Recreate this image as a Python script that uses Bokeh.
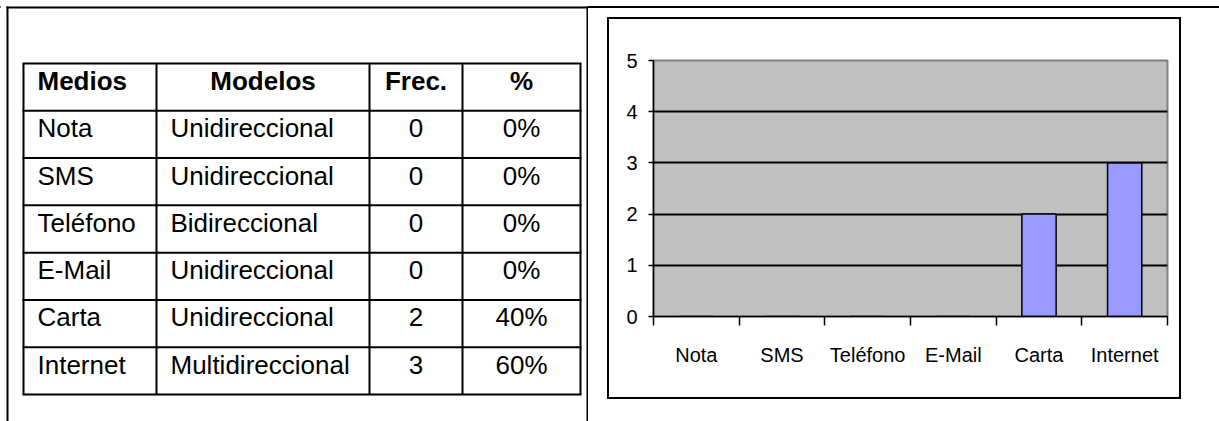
from bokeh.plotting import figure
from bokeh.models import (Range1d, FactorRange, LinearAxis, FixedTicker,
                          ColumnDataSource)
from bokeh.layouts import row
from bokeh.embed import file_html
from bokeh.resources import INLINE
from bokeh.core.properties import value

# ---------------- data ----------------
medios = ["Nota", "SMS", "Teléfono", "E-Mail", "Carta", "Internet"]
modelos = ["Unidireccional", "Unidireccional", "Bidireccional",
           "Unidireccional", "Unidireccional", "Multidireccional"]
frecuencia = [0, 0, 0, 0, 2, 3]
porcentaje = ["0%", "0%", "0%", "0%", "40%", "60%"]
encabezados = ["Medios", "Modelos", "Frec.", "%"]
y_ticks = [0, 1, 2, 3, 4, 5]

# ---------------- layout constants (page pixels) ----------------
PAGE_W, PAGE_H = 1219, 421
W1 = 588
FONT = "Liberation Sans"

col_edges = [23, 156, 369, 462, 580]
t_top, t_bot = 63, 394
n_rows = len(medios) + 1
row_h = (t_bot - t_top) / n_rows
row_edges = [t_top + i * row_h for i in range(n_rows + 1)]
PAD = 14
TXT_DY = 17.5

# ---------------- table figure ----------------
tbl = figure(width=W1, height=PAGE_H, x_range=Range1d(0, W1),
             y_range=Range1d(PAGE_H, 0), output_backend="svg",
             toolbar_location=None, min_border=0,
             x_axis_type=None, y_axis_type=None)
tbl.frame_align = False
tbl.grid.visible = False
tbl.outline_line_color = None
tbl.background_fill_color = "white"
tbl.border_fill_color = "white"

# outer page frame (left, top, middle separator)
tbl.segment(x0=[7, 6, 587], y0=[6, 7, 6], x1=[7, W1, 587],
            y1=[PAGE_H, 7, PAGE_H], line_color="black", line_width=2)

# table grid
tbl.segment(x0=col_edges, y0=[t_top] * len(col_edges), x1=col_edges,
            y1=[t_bot] * len(col_edges), line_color="black", line_width=2)
tbl.segment(x0=[col_edges[0] - 1] * len(row_edges), y0=row_edges,
            x1=[col_edges[-1] + 1] * len(row_edges), y1=row_edges,
            line_color="black", line_width=2)

centers = [(col_edges[i] + col_edges[i + 1]) / 2 for i in range(4)]
head_x = [col_edges[0] + PAD, centers[1], centers[2], centers[3]]
head_align = ["left", "center", "center", "center"]
for hx, ha, ht in zip(head_x, head_align, encabezados):
    tbl.text(x=[hx], y=[row_edges[0] + TXT_DY], text=[ht],
             text_font=value(FONT), text_font_size="26px",
             text_font_style="bold", text_align=ha,
             text_baseline="middle", text_color="black")

body_y = [row_edges[i + 1] + TXT_DY for i in range(len(medios))]
cols = [
    (medios, col_edges[0] + PAD, "left"),
    (modelos, col_edges[1] + PAD, "left"),
    ([str(v) for v in frecuencia], centers[2], "center"),
    (porcentaje, centers[3], "center"),
]
for texts, cx, ca in cols:
    tbl.text(x=[cx] * len(texts), y=body_y, text=texts,
             text_font=value(FONT), text_font_size="26px",
             text_align=ca, text_baseline="middle", text_color="black")

# ---------------- chart figure ----------------
# inner edges of the chart's 2px box (box drawn as CSS outline outside)
BOX_L, BOX_T, BOX_R, BOX_B = 609, 19, 1179, 397
FR_L, FR_T, FR_R, FR_B = 653, 60, 1167, 316
src = ColumnDataSource(dict(medios=medios, frec=frecuencia))
ch = figure(width=BOX_R - BOX_L, height=BOX_B - BOX_T,
            x_range=FactorRange(*medios),
            y_range=Range1d(y_ticks[0], y_ticks[-1]),
            output_backend="svg", toolbar_location=None,
            x_axis_type=None,
            min_border_left=FR_L - BOX_L, min_border_right=BOX_R - FR_R,
            min_border_top=FR_T - BOX_T, min_border_bottom=BOX_B - FR_B,
            margin=(BOX_T, PAGE_W - BOX_R, PAGE_H - BOX_B, BOX_L - W1))
ch.frame_align = False
ch.styles = {"outline": "2px solid black", "outline-offset": "0px"}
ch.background_fill_color = "#C0C0C0"
ch.border_fill_color = "white"
ch.outline_line_color = "#808080"
ch.outline_line_width = 2
ch.xgrid.visible = False
ch.ygrid.ticker = FixedTicker(ticks=y_ticks[1:-1])
ch.ygrid.grid_line_color = "black"
ch.ygrid.grid_line_width = 2

ch.vbar(x="medios", top="frec", width=0.4, source=src,
        fill_color="#9999FF", line_color="black", line_width=1.5)

yax = ch.yaxis[0]
yax.ticker = FixedTicker(ticks=y_ticks)
yax.major_tick_out = 5
yax.major_tick_in = 0
yax.minor_tick_line_color = None
yax.axis_line_color = "black"
yax.axis_line_width = 1.5
yax.major_tick_line_color = "black"
yax.major_tick_line_width = 1.5
yax.major_label_text_font = FONT
yax.major_label_text_font_size = "20px"
yax.major_label_text_color = "black"
yax.major_label_standoff = 11

n = len(medios)
xax = LinearAxis(
    ticker=FixedTicker(ticks=[i + 0.5 for i in range(n)],
                       minor_ticks=list(range(n + 1))),
    major_label_overrides={i + 0.5: m for i, m in enumerate(medios)},
)
xax.major_tick_out = 0
xax.major_tick_in = 0
xax.major_tick_line_color = None
xax.minor_tick_out = 9
xax.minor_tick_in = 0
xax.minor_tick_line_color = "black"
xax.minor_tick_line_width = 1.5
xax.axis_line_color = "black"
xax.axis_line_width = 1.5
xax.major_label_text_font = FONT
xax.major_label_text_font_size = "20px"
xax.major_label_text_color = "black"
xax.major_label_standoff = 18
ch.add_layout(xax, "below")

layout = row(tbl, ch)
layout.styles = {"background": "linear-gradient(to bottom, white 0px, white 6px, "
                               "black 6px, black 8px, white 8px, white 100%)"}
open("out.html", "w").write(file_html(layout, INLINE))
